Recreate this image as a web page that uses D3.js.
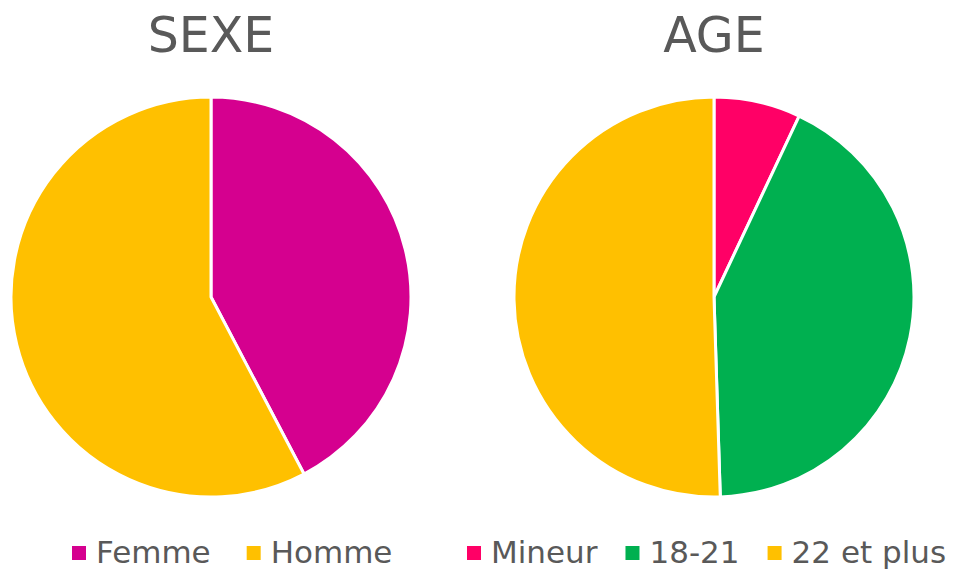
<!DOCTYPE html>
<html lang="fr">
<head>
  <meta charset="UTF-8">
  <title>SEXE / AGE</title>
  <style>
    * { margin: 0; padding: 0; }
    body { background: #fff; width: 958px; height: 569px; overflow: hidden; }
    svg { display: block; font-family: 'DejaVu Sans', Verdana, sans-serif; }
  </style>
</head>
<body>
  <svg id="chart" width="958" height="569"></svg>
  <script src="https://d3js.org/d3.v7.min.js"></script>
  <script>
    // Données (en %)
    const sexeLabels = ['Femme', 'Homme'];
    const sexeValues = [42.3, 57.7];
    const sexeColors = ['#D5008F', '#FFC000'];

    const ageLabels = ['Mineur', '18-21', '22 et plus'];
    const ageValues = [7, 42.5, 50.5];
    const ageColors = ['#FF0066', '#00B050', '#FFC000'];

    const svg = d3.select('#chart');
    const textColor = '#595959';

    const pie = d3.pie().sort(null).value(d => d.value);
    const arc = d3.arc().innerRadius(0).outerRadius(200);

    function drawPie(title, labels, values, colors, cx, legendX, gap) {
      const data = labels.map((l, i) => ({ label: l, value: values[i], color: colors[i] }));
      const g = svg.append('g');

      g.append('text')
        .attr('x', cx)
        .attr('y', 52)
        .attr('text-anchor', 'middle')
        .attr('font-size', 49)
        .attr('fill', textColor)
        .text(title);

      g.append('g')
        .attr('transform', `translate(${cx},297)`)
        .selectAll('path')
        .data(pie(data))
        .join('path')
        .attr('d', arc)
        .attr('fill', d => d.data.color)
        .attr('stroke', '#fff')
        .attr('stroke-width', 3)
        .attr('stroke-linejoin', 'round');

      // Légende
      const legend = g.append('g').attr('transform', 'translate(0,563)');
      let x = legendX;
      data.forEach(d => {
        legend.append('rect')
          .attr('x', x)
          .attr('y', -17)
          .attr('width', 14)
          .attr('height', 14)
          .attr('fill', d.color);
        const t = legend.append('text')
          .attr('x', x + 24)
          .attr('y', 0)
          .attr('font-size', 31)
          .attr('fill', textColor)
          .text(d.label);
        x += 24 + t.node().getComputedTextLength() + gap;
      });
    }

    drawPie('SEXE', sexeLabels, sexeValues, sexeColors, 211, 72, 36);
    drawPie('AGE', ageLabels, ageValues, ageColors, 714, 467, 28);
  </script>
</body>
</html>
